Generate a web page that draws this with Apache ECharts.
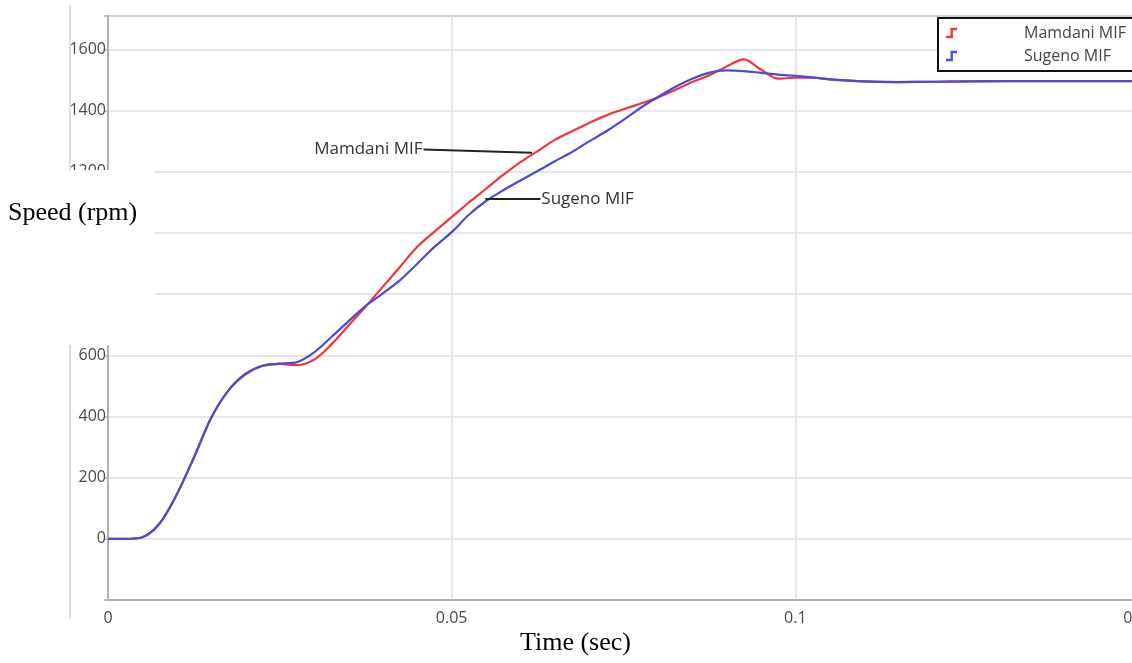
<!DOCTYPE html>
<html>
<head>
<meta charset="utf-8">
<title>Speed response: Mamdani vs Sugeno MIF</title>
<script src="https://cdn.jsdelivr.net/npm/echarts@6/dist/echarts.min.js"></script>
<style>
  html, body { margin: 0; padding: 0; background: #fff; }
  #chart { width: 1132px; height: 663px; }
</style>
</head>
<body>
<div id="chart"></div>
<script>
// Sample times (s)
const timeSec = [0, 0.0025, 0.005, 0.0075, 0.01, 0.0125, 0.015, 0.0175, 0.02, 0.0225,
  0.025, 0.0275, 0.03, 0.0325, 0.035, 0.0375, 0.04, 0.0425, 0.045, 0.0475,
  0.05, 0.0525, 0.055, 0.0575, 0.06, 0.0625, 0.065, 0.0675, 0.07, 0.0725,
  0.075, 0.0775, 0.08, 0.0825, 0.085, 0.0875, 0.09, 0.0925, 0.095, 0.0975,
  0.1, 0.1025, 0.105, 0.11, 0.115, 0.12, 0.13, 0.15];

// Rotor speed (rpm) with Mamdani membership functions
const speedMamdani = [0, 0, 5, 50, 145, 266, 395, 485, 540, 566,
  572, 568, 586, 636, 698, 760, 825, 890, 955, 1005,
  1052, 1100, 1145, 1190, 1232, 1268, 1305, 1333, 1360, 1385,
  1405, 1424, 1443, 1468, 1494, 1516, 1545, 1568, 1535, 1505,
  1508, 1508, 1503, 1496, 1494, 1495, 1497, 1497];

// Rotor speed (rpm) with Sugeno membership functions
const speedSugeno = [0, 0, 5, 50, 145, 266, 395, 485, 538, 566,
  573, 578, 610, 660, 712, 762, 803, 846, 900, 955,
  1003, 1060, 1105, 1140, 1172, 1203, 1235, 1265, 1300, 1333,
  1370, 1410, 1445, 1478, 1505, 1525, 1532, 1530, 1524, 1518,
  1514, 1509, 1503, 1496, 1494, 1495, 1497, 1497];

const seriesNames = ['Mamdani MIF', 'Sugeno MIF'];
const seriesColors = ['#f0353d', '#4b4bd6'];

// Leader lines for the in-plot labels: [time, speed] start and end
const mamdaniLeader = [[0.0459, 1273], [0.0617, 1263]];
const sugenoLeader = [[0.0549, 1111], [0.0629, 1111]];

const yTickLabels = [0, 200, 400, 600, 800, 1000, 1200, 1400, 1600];

const stepIcon = 'path://M0,9 L4.5,9 L4.5,1 L11,1 L11,3.4 L6.9,3.4 L6.9,11.4 L0,11.4 Z';

const pairs = (xs, ys) => xs.map((x, i) => [x, ys[i]]);

const chart = echarts.init(document.getElementById('chart'), null, { renderer: 'canvas' });

const tickFont = { fontFamily: 'Open Sans', fontSize: 16, color: '#4a4a4a' };
const axisGray = '#b0b0b0';

chart.setOption({
  animation: false,
  backgroundColor: '#ffffff',
  grid: {
    left: 108, right: -7, top: 16, bottom: 63,
    outerBoundsMode: 'none', containLabel: false,
    show: true, borderColor: axisGray, borderWidth: 2
  },
  xAxis: {
    type: 'value', min: 0, max: 0.15, interval: 0.05,
    axisLine: { show: true, onZero: false, lineStyle: { color: axisGray, width: 2 } },
    axisTick: { show: false },
    axisLabel: Object.assign({ margin: 10, formatter: v => String(+v.toFixed(2)) }, tickFont),
    splitLine: { show: true, lineStyle: { color: '#dedede', width: 1.5 } }
  },
  yAxis: {
    type: 'value', min: -200, max: 1710, interval: 200,
    axisLine: { show: true, onZero: false, lineStyle: { color: axisGray, width: 2 } },
    axisTick: { show: true, inside: false, length: 4, lineStyle: { color: axisGray, width: 1.5 } },
    axisLabel: Object.assign({
      margin: 2,
      formatter: v => yTickLabels.indexOf(Math.round(v)) >= 0 && Math.abs(v - Math.round(v)) < 1e-6 ? String(Math.round(v)) : ''
    }, tickFont),
    splitLine: { show: true, lineStyle: { color: '#dedede', width: 1.5 } }
  },
  legend: {
    orient: 'vertical', left: 938, top: 18,
    itemWidth: 11, itemHeight: 12, itemGap: 7,
    padding: [7, 40, 7, 8],
    backgroundColor: '#ffffff', borderColor: '#111111', borderWidth: 2,
    textStyle: { fontFamily: 'Open Sans', fontSize: 16, color: '#444', padding: [0, 0, 0, 62] },
    data: seriesNames.map(n => ({ name: n, icon: stepIcon }))
  },
  series: [
    {
      name: seriesNames[0], type: 'line', smooth: 0.3,
      showSymbol: false, symbol: 'none',
      data: pairs(timeSec, speedMamdani),
      itemStyle: { color: seriesColors[0] },
      lineStyle: { color: seriesColors[0], width: 2.2 },
      z: 3,
      markLine: {
        silent: true, symbol: ['none', 'none'], animation: false,
        lineStyle: { color: '#222', width: 2, type: 'solid' },
        label: { show: true, position: 'start', distance: 1, formatter: seriesNames[0],
                 fontFamily: 'Open Sans', fontSize: 17, color: '#333' },
        data: [[{ coord: mamdaniLeader[0] }, { coord: mamdaniLeader[1] }]]
      }
    },
    {
      name: seriesNames[1], type: 'line', smooth: 0.3,
      showSymbol: false, symbol: 'none',
      data: pairs(timeSec, speedSugeno),
      itemStyle: { color: seriesColors[1] },
      lineStyle: { color: seriesColors[1], width: 2.2 },
      z: 4,
      markLine: {
        silent: true, symbol: ['none', 'none'], animation: false,
        lineStyle: { color: '#222', width: 2, type: 'solid' },
        label: { show: true, position: 'end', distance: 1, formatter: seriesNames[1],
                 fontFamily: 'Open Sans', fontSize: 17, color: '#333' },
        data: [[{ coord: sugenoLeader[0] }, { coord: sugenoLeader[1] }]]
      }
    }
  ],
  graphic: [
    // outer frame edge on the left
    { type: 'line', z: 90, shape: { x1: 70, y1: 5, x2: 70, y2: 618 },
      style: { stroke: '#d2d2d2', lineWidth: 1.5 } },
    // panel holding the axis title
    { type: 'rect', z: 100, shape: { x: 0, y: 170, width: 155, height: 175 },
      style: { fill: '#ffffff' } },
    { type: 'text', z: 101, left: 8, top: 200,
      style: { text: 'Speed (rpm)', fontFamily: 'Liberation Serif', fontSize: 26, fill: '#000' } },
    { type: 'text', z: 101, left: 520, top: 630,
      style: { text: 'Time (sec)', fontFamily: 'Liberation Serif', fontSize: 26, fill: '#000' } }
  ]
});
</script>
</body>
</html>
